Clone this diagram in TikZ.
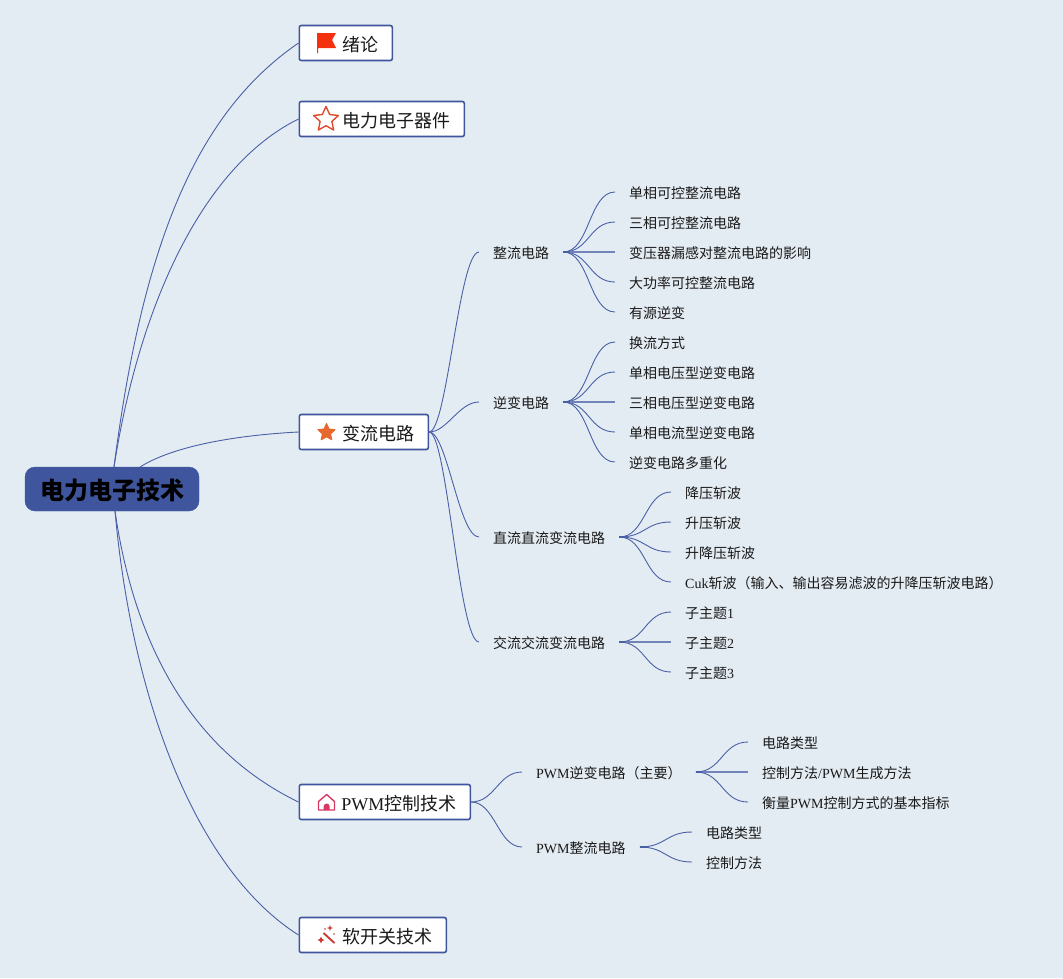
\documentclass[tikz,border=0pt]{standalone}
\usepackage{fontspec}
\setmainfont{Liberation Serif}
\newfontfamily\cjk{Noto Sans CJK SC}
\newcommand{\zh}[1]{{\cjk #1}}
\usetikzlibrary{shapes.geometric}
\definecolor{bgc}{HTML}{E4ECF3}
\definecolor{navy}{HTML}{3F569E}
\definecolor{wirec}{HTML}{4A60A6}
\definecolor{flagc}{HTML}{F5300F}
\definecolor{staroc}{HTML}{E04A30}
\definecolor{starfc}{HTML}{E5682F}
\definecolor{housec}{HTML}{D93A63}
\definecolor{wandc}{HTML}{CC3A32}
\tikzset{
  rootnode/.style={draw=navy,fill=navy,rounded corners=10pt,minimum width=174pt,minimum height=44pt,inner sep=0pt,text height=22pt,text depth=2pt,font=\fontsize{24}{24}\selectfont\cjk\bfseries,text=black},
  topicnode/.style={draw=navy,line width=1.6pt,fill=white,rounded corners=2pt,minimum height=35pt,inner xsep=0pt,inner ysep=0pt,anchor=west,text height=16.5pt,text depth=0.5pt,font=\fontsize{18}{18}\selectfont,text=black!90},
  subnode/.style={anchor=west,inner xsep=14pt,inner ysep=0pt,minimum height=18pt,text height=13pt,text depth=0.6pt,font=\fontsize{14}{14}\selectfont,text=black!90},
  wire/.style={draw=wirec,line width=0.9pt},
  flatwire/.style={draw=wirec!75!bgc,line width=1.6pt},
  stub/.style={draw=wirec,line width=1.7pt},
}
\newcommand{\branch}[2]{\draw[wire] (#1.east) .. controls +(26,0) and +(-26,0) .. (#2.west);}
\newcommand{\bigbranch}[2]{\draw[wire] (#1.east) .. controls +(18,0) and +(-20,0) .. (#2.west);}
\begin{document}
\begin{tikzpicture}[x=1pt,y=-1pt]
\useasboundingbox[fill=bgc] (0,0) rectangle (1063,978);

\node[rootnode] (root) at (112,489) {电力电子技术};
\coordinate (rootT) at (114,467);
\coordinate (rootC) at (140,467);
\coordinate (rootB) at (115,511);

\node[topicnode] (t1) at (298.5,43) {\hspace*{43pt}\zh{绪论}\hspace*{14pt}};
\node[topicnode] (t2) at (298.5,119) {\hspace*{43pt}\zh{电力电子器件}\hspace*{14pt}};
\node[topicnode] (t3) at (298.5,432) {\hspace*{43pt}\zh{变流电路}\hspace*{14pt}};
\node[topicnode] (t4) at (298.5,802) {\hspace*{42pt}PWM\zh{控制技术}\hspace*{14pt}};
\node[topicnode] (t5) at (298.5,935) {\hspace*{43pt}\zh{软开关技术}\hspace*{14pt}};

\draw[wire] (rootT) .. controls (143,240) and (198,112) .. (t1.west);
\draw[wire] (rootT) .. controls (140,300) and (205,165) .. (t2.west);
\draw[wire] (rootC) .. controls (175,445) and (240,435) .. (t3.west);
\draw[wire] (rootB) .. controls (135,650) and (195,752) .. (t4.west);
\draw[wire] (rootB) .. controls (132,700) and (196,870) .. (t5.west);

% second level
\node[subnode] (a) at (479,252) {\zh{整流电路}};
\node[subnode] (b) at (479,402) {\zh{逆变电路}};
\node[subnode] (c) at (479,537) {\zh{直流直流变流电路}};
\node[subnode] (d) at (479,642) {\zh{交流交流变流电路}};
\node[subnode] (e) at (522,772) {PWM\zh{逆变电路（主要）}};
\node[subnode] (f) at (522,847) {PWM\zh{整流电路}};

\foreach \n in {a,b,c,d} \bigbranch{t3}{\n};
\foreach \n in {e,f} \draw[wire] (t4.east) .. controls +(24,0) and +(-24,0) .. (\n.west);

% leaves
\node[subnode] (a1) at (615,192) {\zh{单相可控整流电路}};
\node[subnode] (a2) at (615,222) {\zh{三相可控整流电路}};
\node[subnode] (a3) at (615,252) {\zh{变压器漏感对整流电路的影响}};
\node[subnode] (a4) at (615,282) {\zh{大功率可控整流电路}};
\node[subnode] (a5) at (615,312) {\zh{有源逆变}};
\node[subnode] (b1) at (615,342) {\zh{换流方式}};
\node[subnode] (b2) at (615,372) {\zh{单相电压型逆变电路}};
\node[subnode] (b3) at (615,402) {\zh{三相电压型逆变电路}};
\node[subnode] (b4) at (615,432) {\zh{单相电流型逆变电路}};
\node[subnode] (b5) at (615,462) {\zh{逆变电路多重化}};
\node[subnode] (c1) at (671,492) {\zh{降压斩波}};
\node[subnode] (c2) at (671,522) {\zh{升压斩波}};
\node[subnode] (c3) at (671,552) {\zh{升降压斩波}};
\node[subnode] (c4) at (671,582) {Cuk\zh{斩波（输入、输出容易滤波的升降压斩波电路）}};
\node[subnode] (d1) at (671,612) {\zh{子主题}1};
\node[subnode] (d2) at (671,642) {\zh{子主题}2};
\node[subnode] (d3) at (671,672) {\zh{子主题}3};
\node[subnode] (e1) at (748,742) {\zh{电路类型}};
\node[subnode] (e2) at (748,772) {\zh{控制方法}/PWM\zh{生成方法}};
\node[subnode] (e3) at (748,802) {\zh{衡量}PWM\zh{控制方式的基本指标}};
\node[subnode] (f1) at (692,832) {\zh{电路类型}};
\node[subnode] (f2) at (692,862) {\zh{控制方法}};

\foreach \n in {a1,a2,a4,a5} \branch{a}{\n};
\foreach \n in {b1,b2,b4,b5} \branch{b}{\n};
\foreach \n in {c1,c2,c3,c4} \branch{c}{\n};
\foreach \n in {d1,d3} \branch{d}{\n};
\foreach \n in {e1,e3} \branch{e}{\n};
\foreach \n in {f1,f2} \branch{f}{\n};
\draw[flatwire] (a.east) -- (a3.west);
\draw[flatwire] (b.east) -- (b3.west);
\draw[flatwire] (d.east) -- (d2.west);
\draw[flatwire] (e.east) -- (e2.west);
\foreach \n in {a,b,c,d,e,f} \draw[stub] (\n.east) -- ++(7,0);

% icons
\fill[flagc] (317,33) -- (336,33) -- (332,40) -- (336,48) -- (318,48) -- (318,53) -- (317,53) -- cycle;
\node[star,star points=5,star point ratio=2.1,draw=staroc,line width=1.4pt,line join=round,fill=white,minimum size=26pt,inner sep=0pt] (staro) at (326,119.5) {};
\node[star,star points=5,star point ratio=2.1,fill=starfc,line join=round,draw=starfc,line width=1pt,minimum size=18pt,inner sep=0pt] (starf) at (326.5,432.5) {};
\draw[draw=housec,line width=1.4pt,line join=round] (318.5,801.5) -- (326.7,794.5) -- (334.5,801.5) -- (334.5,810) -- (318.5,810) -- cycle;
\fill[housec] (323.7,810) -- (323.7,806.5) arc[start angle=180,end angle=0,radius=3pt] -- (329.7,810) -- cycle;
\draw[wandc,line width=1.9pt] (323.5,933) -- (334.5,943);
\fill[wandc] (321,936.5) -- (322,938.8) -- (324.5,940) -- (322,941.2) -- (321,943.5) -- (320,941.2) -- (317.5,940) -- (320,938.8) -- cycle;
\fill[wandc] (330,925) -- (330.8,927.2) -- (333,928) -- (330.8,928.8) -- (330,931) -- (329.2,928.8) -- (327,928) -- (329.2,927.2) -- cycle;
\fill[wandc] (325,929) circle[radius=0.9pt] (334,934) circle[radius=0.9pt];
\end{tikzpicture}
\end{document}
